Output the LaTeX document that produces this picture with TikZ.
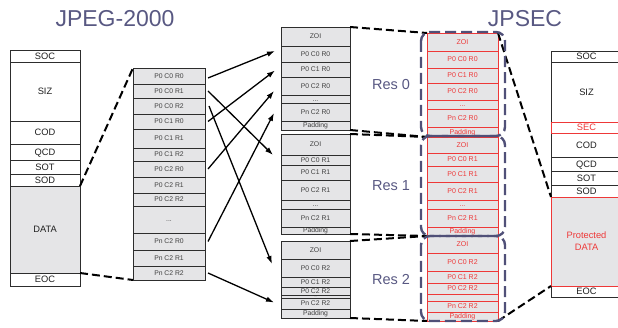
\documentclass[tikz,border=0pt]{standalone}
\usepackage{fontspec}
\setmainfont{Liberation Sans}
\usetikzlibrary{arrows.meta}
\definecolor{pgray}{RGB}{229,229,231}
\definecolor{sred}{RGB}{238,56,56}
\definecolor{tcol}{RGB}{88,88,130}
\definecolor{gcol}{RGB}{80,80,120}
\definecolor{bcol}{RGB}{45,45,45}
\newcommand\mkcell[7]{\node[#1, minimum width={(#4-#3)*1pt}, minimum height={(#6-#5)*1pt}] (#2) at (#3,#5) {#7};}
\begin{document}
\begin{tikzpicture}[x=1pt,y=-1pt,
  cellbase/.style={anchor=north west, inner sep=0pt, outer sep=0pt, line width=0.8pt},
  hdr/.style={cellbase, draw=bcol, fill=white, text=black!88, font=\fontsize{9.3}{10}\selectfont, text height=6.7pt, text depth=0pt},
  hdrg/.style={hdr, fill=pgray},
  hdrred/.style={hdr, draw=sred, text=sred},
  pk/.style={cellbase, draw=bcol, fill=pgray, text=black!75, font=\fontsize{6.8}{7}\selectfont, text height=4.9pt, text depth=0pt},
  rpk/.style={pk, draw=sred, text=sred, font=\fontsize{7}{7}\selectfont},
  thin/.style={text height=3pt, text depth=0pt, font=\fontsize{3}{3}\selectfont},
  title/.style={text=tcol, font=\fontsize{23}{26}\selectfont, inner sep=0pt},
  reslab/.style={text=tcol, font=\fontsize{14.5}{16}\selectfont, inner sep=0pt},
  arr/.style={draw=black, line width=1.3pt, -{Latex[length=8pt,width=5.5pt]}},
  dcon/.style={draw=black, line width=2pt, dash pattern=on 8pt off 4pt},
  grp/.style={draw=gcol, line width=2.4pt, dash pattern=on 11pt off 5pt, rounded corners=9pt}
]
\useasboundingbox (0,0) rectangle (618,328);
% titles
\node[title, anchor=base] (t1) at (115,27) {JPEG-2000};
\node[title, anchor=base] (t2) at (525,27) {JPSEC};
% left column
\mkcell{hdr}{lsoc}{10}{80}{50}{62}{SOC}
\mkcell{hdr}{lsiz}{10}{80}{62}{121}{SIZ}
\mkcell{hdr}{lcod}{10}{80}{121}{144}{COD}
\mkcell{hdr}{lqcd}{10}{80}{144}{160}{QCD}
\mkcell{hdr}{lsot}{10}{80}{160}{174}{SOT}
\mkcell{hdr}{lsod}{10}{80}{174}{186}{SOD}
\mkcell{hdrg}{ldata}{10}{80}{186}{273}{DATA}
\mkcell{hdr}{leoc}{10}{80}{273}{286}{EOC}
% middle list
\mkcell{pk}{m1}{133}{205}{68}{84}{P0 C0 R0}
\mkcell{pk}{m2}{133}{205}{84}{98}{P0 C0 R1}
\mkcell{pk}{m3}{133}{205}{98}{114}{P0 C0 R2}
\mkcell{pk}{m4}{133}{205}{114}{129}{P0 C1 R0}
\mkcell{pk}{m5}{133}{205}{129}{148}{P0 C1 R1}
\mkcell{pk}{m6}{133}{205}{148}{161}{P0 C1 R2}
\mkcell{pk}{m7}{133}{205}{161}{177}{P0 C2 R0}
\mkcell{pk}{m8}{133}{205}{177}{193}{P0 C2 R1}
\mkcell{pk}{m9}{133}{205}{193}{206}{P0 C2 R2}
\mkcell{pk}{m10}{133}{205}{206}{233}{...}
\mkcell{pk}{m11}{133}{205}{233}{250}{Pn C2 R0}
\mkcell{pk}{m12}{133}{205}{250}{266}{Pn C2 R1}
\mkcell{pk}{m13}{133}{205}{266}{280}{Pn C2 R2}
% resolution column
\mkcell{pk}{a0}{281}{350}{27}{46}{ZOI}
\mkcell{pk}{a1}{281}{350}{46}{62}{P0 C0 R0}
\mkcell{pk}{a2}{281}{350}{62}{77}{P0 C1 R0}
\mkcell{pk}{a3}{281}{350}{77}{95}{P0 C2 R0}
\mkcell{pk}{a4}{281}{350}{95}{103}{...}
\mkcell{pk}{a5}{281}{350}{103}{121}{Pn C2 R0}
\mkcell{pk}{a6}{281}{350}{121}{130}{Padding}
\mkcell{pk}{b0}{281}{350}{134}{155}{ZOI}
\mkcell{pk}{b1}{281}{350}{155}{165}{P0 C0 R1}
\mkcell{pk}{b2}{281}{350}{165}{180}{P0 C1 R1}
\mkcell{pk}{b3}{281}{350}{180}{200}{P0 C2 R1}
\mkcell{pk}{b4}{281}{350}{200}{209}{...}
\mkcell{pk}{b5}{281}{350}{209}{227}{Pn C2 R1}
\mkcell{pk}{b6}{281}{350}{227}{234}{Padding}
\mkcell{pk}{c0}{281}{350}{241}{259}{ZOI}
\mkcell{pk}{c1}{281}{350}{259}{277}{P0 C0 R2}
\mkcell{pk}{c2}{281}{350}{277}{287}{P0 C1 R2}
\mkcell{pk}{c3}{281}{350}{287}{295}{P0 C2 R2}
\mkcell{pk,thin}{c4}{281}{350}{295}{298}{...}
\mkcell{pk}{c5}{281}{350}{298}{309}{Pn C2 R2}
\mkcell{pk}{c6}{281}{350}{309}{318}{Padding}
% JPSEC column
\mkcell{rpk}{sa0}{427}{498}{33}{51}{ZOI}
\mkcell{rpk}{sa1}{427}{498}{51}{68}{P0 C0 R0}
\mkcell{rpk}{sa2}{427}{498}{68}{83}{P0 C1 R0}
\mkcell{rpk}{sa3}{427}{498}{83}{100}{P0 C2 R0}
\mkcell{rpk}{sa4}{427}{498}{100}{109}{...}
\mkcell{rpk}{sa5}{427}{498}{109}{127}{Pn C2 R0}
\mkcell{rpk}{sa6}{427}{498}{127}{137}{Padding}
\mkcell{rpk}{sb0}{427}{498}{137}{153}{ZOI}
\mkcell{rpk}{sb1}{427}{498}{153}{166}{P0 C0 R1}
\mkcell{rpk}{sb2}{427}{498}{166}{182}{P0 C1 R1}
\mkcell{rpk}{sb3}{427}{498}{182}{200}{P0 C2 R1}
\mkcell{rpk}{sb4}{427}{498}{200}{209}{...}
\mkcell{rpk}{sb5}{427}{498}{209}{227}{Pn C2 R1}
\mkcell{rpk}{sb6}{427}{498}{227}{236}{Padding}
\mkcell{rpk}{sc0}{427}{498}{236}{253}{ZOI}
\mkcell{rpk}{sc1}{427}{498}{253}{271}{P0 C0 R2}
\mkcell{rpk}{sc2}{427}{498}{271}{283}{P0 C1 R2}
\mkcell{rpk}{sc3}{427}{498}{283}{294}{P0 C2 R2}
\mkcell{rpk}{sc4}{427}{498}{294}{301}{}
\mkcell{rpk}{sc5}{427}{498}{301}{312}{Pn C2 R2}
\mkcell{rpk}{sc6}{427}{498}{312}{321}{Padding}
% right column
\mkcell{hdr}{rsoc}{551}{622}{51}{62}{SOC}
\mkcell{hdr}{rsiz}{551}{622}{62}{122}{SIZ}
\mkcell{hdr}{rcod}{551}{622}{133}{157}{COD}
\mkcell{hdr}{rqcd}{551}{622}{157}{171}{QCD}
\mkcell{hdr}{rsot}{551}{622}{171}{185}{SOT}
\mkcell{hdr}{rsod}{551}{622}{185}{197}{SOD}
\mkcell{hdr}{reoc}{551}{622}{286}{297}{EOC}
\mkcell{hdrred}{rsec}{551}{622}{122}{133}{SEC}
\mkcell{hdrred,fill=pgray,align=center,text height=,text depth=,font=\fontsize{9.3}{12}\selectfont}{rdata}{551}{622}{197}{286}{Protected\\DATA}
% resolution labels
\node[reslab, anchor=base] (res0) at (391,90) {Res 0};
\node[reslab, anchor=base] (res1) at (391,191) {Res 1};
\node[reslab, anchor=base] (res2) at (391,285) {Res 2};
% arrows
\draw[arr] ([xshift=3pt,yshift=-2pt]m1.east) -- ([xshift=-6pt,yshift=3pt]a1.west);
\draw[arr] ([xshift=3pt]m2.east) -- ([xshift=-8pt,yshift=5pt]b1.west);
\draw[arr] ([xshift=4pt]m3.east) -- ([xshift=-9pt,yshift=4pt]c1.west);
\draw[arr] ([xshift=3pt]m4.east) -- ([xshift=-6pt,yshift=-1pt]a2.west);
\draw[arr] ([xshift=3pt]m7.east) -- ([xshift=-7pt,yshift=-5pt]a3.west);
\draw[arr] ([xshift=3pt]m11.east) -- ([xshift=-7pt,yshift=-1pt]a5.west);
\draw[arr] ([xshift=3pt]m13.east) -- ([xshift=-7pt,yshift=1pt]c5.west);
% dashed connectors
\draw[dcon] (lsod.south east) -- (m1.north west);
\draw[dcon] (leoc.north east) -- (m13.south west);
\draw[dcon] (a0.north east) -- (sa0.north west);
\draw[dcon] (a6.south east) -- (sa6.south west);
\draw[dcon] (b0.north east) -- (sb0.north west);
\draw[dcon] (b6.south east) -- (sb6.south west);
\draw[dcon] (c0.north east) -- (sc0.north west);
\draw[dcon] (c6.south east) -- (sc6.south west);
\draw[dcon] (sa0.north east) -- (rsod.south west);
\draw[dcon] (sc6.south east) -- (reoc.north west);
% dashed groups
\draw[grp] (421,32) rectangle (505,136);
\draw[grp] (421,136) rectangle (505,236);
\draw[grp] (421,236) rectangle (505,321);
\end{tikzpicture}
\end{document}
